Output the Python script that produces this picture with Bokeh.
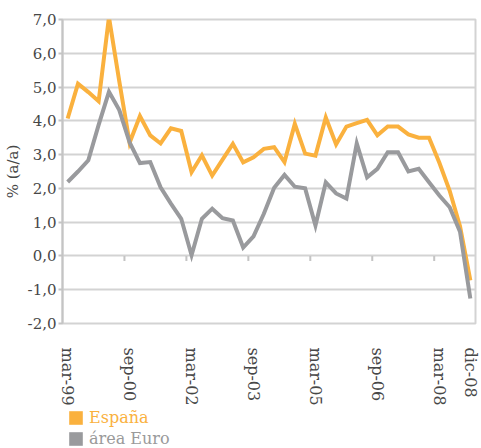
import math

from bokeh.plotting import figure
from bokeh.layouts import column
from bokeh.models import FixedTicker, Legend, LegendItem, Range1d
from bokeh.embed import file_html
from bokeh.resources import INLINE

# Quarterly periods, mar-99 .. dic-08
meses = ["mar", "jun", "sep", "dic"]
periodos = [f"{m}-{a % 100:02d}" for a in range(1999, 2009) for m in meses]

# Year-on-year rate (%)
espana = [4.07, 5.10, 4.85, 4.58, 7.07, 5.17, 3.35, 4.14, 3.57, 3.33,
          3.78, 3.70, 2.48, 2.98, 2.38, 2.85, 3.32, 2.77, 2.92, 3.17,
          3.22, 2.78, 3.91, 3.03, 2.97, 4.10, 3.30, 3.83, 3.93, 4.03,
          3.57, 3.83, 3.83, 3.60, 3.50, 3.50, 2.76, 1.93, 0.88, -0.72]
euro = [2.19, 2.50, 2.83, 3.88, 4.86, 4.32, 3.36, 2.75, 2.78, 2.03,
        1.55, 1.10, 0.02, 1.10, 1.40, 1.12, 1.05, 0.25, 0.58, 1.25,
        2.02, 2.40, 2.05, 2.00, 0.90, 2.18, 1.85, 1.70, 3.33, 2.33,
        2.58, 3.07, 3.07, 2.50, 2.58, 2.18, 1.79, 1.44, 0.72, -1.26]

etiquetas_x = ["mar-99", "sep-00", "mar-02", "sep-03", "mar-05", "sep-06", "mar-08", "dic-08"]
ticks_y = [-2, -1, 0, 1, 2, 3, 4, 5, 6, 7]

NARANJA = "#FAB13E"
GRIS = "#999A9D"
REJILLA = "#D3D3D3"
EJE = "#C4C4C4"
TEXTO = "#474747"
FUENTE = "DejaVu Serif"

x = list(range(len(periodos)))

p = figure(frame_width=413, frame_height=304,
           x_range=Range1d(-0.5, len(periodos) - 0.5),
           y_range=Range1d(ticks_y[0], ticks_y[-1]),
           output_backend="svg", toolbar_location=None,
           min_border_left=61, min_border_right=7,
           min_border_top=19, min_border_bottom=82,
           background_fill_color="white", border_fill_color="white")

p.outline_line_color = REJILLA
p.outline_line_width = 2

# Horizontal grid
p.xgrid.grid_line_color = None
p.ygrid.ticker = FixedTicker(ticks=ticks_y)
p.ygrid.grid_line_color = REJILLA
p.ygrid.grid_line_width = 2

# Y axis with comma decimals
p.yaxis.ticker = FixedTicker(ticks=ticks_y)
p.yaxis.major_label_overrides = {v: f"{v:.1f}".replace(".", ",") for v in ticks_y}
p.yaxis.axis_line_color = EJE
p.yaxis.axis_line_width = 2
p.yaxis.major_tick_in = 0
p.yaxis.major_tick_out = 4
p.yaxis.major_tick_line_color = EJE
p.yaxis.major_tick_line_width = 2
p.yaxis.minor_tick_line_color = None
p.yaxis.major_label_standoff = 2
p.yaxis.major_label_text_font = FUENTE
p.yaxis.major_label_text_font_size = "15px"
p.yaxis.major_label_text_color = TEXTO
p.yaxis.axis_label = "% (a/a)"
p.yaxis.axis_label_text_font = FUENTE
p.yaxis.axis_label_text_font_size = "15px"
p.yaxis.axis_label_text_font_style = "normal"
p.yaxis.axis_label_text_color = TEXTO
p.yaxis.axis_label_standoff = 3

# Bottom axis: period labels only
pos_etiquetas = [periodos.index(e) for e in etiquetas_x]
p.xaxis.ticker = FixedTicker(ticks=pos_etiquetas)
p.xaxis.major_label_overrides = {i: e for i, e in zip(pos_etiquetas, etiquetas_x)}
p.xaxis.major_label_orientation = "vertical"
p.xaxis.axis_line_color = None
p.xaxis.major_tick_line_color = None
p.xaxis.minor_tick_line_color = None
p.xaxis.major_label_standoff = 18
p.xaxis.major_label_text_font = FUENTE
p.xaxis.major_label_text_font_size = "16px"
p.xaxis.major_label_text_color = TEXTO

# Category-boundary tick marks hanging from the zero line
bordes = [i - 0.5 for i in range(6, len(periodos), 6)]
p.ray(x=bordes, y=[0] * len(bordes), length=5, length_units="screen",
      angle=-math.pi / 2, line_color=EJE, line_width=2)

p.line(x, espana, line_color=NARANJA, line_width=4, line_join="miter")
p.line(x, euro, line_color=GRIS, line_width=4, line_join="miter")

# Legend strip below the chart
leg = figure(width=481, height=43, x_range=Range1d(0, 1), y_range=Range1d(0, 1),
             output_backend="svg", toolbar_location=None,
             x_axis_location=None, y_axis_location=None,
             min_border=0, outline_line_color=None,
             background_fill_color="white", border_fill_color="white")
leg.grid.visible = False

nan = float("nan")
s_esp = leg.quad(left=[nan], right=[nan], top=[nan], bottom=[nan],
                 fill_color=NARANJA, line_color=None)
s_eur = leg.quad(left=[nan], right=[nan], top=[nan], bottom=[nan],
                 fill_color=GRIS, line_color=None)

def entrada(renderer, texto, color, loc):
    lg = Legend(items=[LegendItem(label=texto, renderers=[renderer])],
                location=loc, glyph_width=17, glyph_height=17,
                label_standoff=5, padding=0, margin=0, spacing=0,
                border_line_color=None, background_fill_alpha=0,
                label_text_font=FUENTE, label_text_font_size="16px",
                label_text_color=color, label_height=20)
    leg.add_layout(lg)

entrada(s_esp, "España", NARANJA, (5, 24))
entrada(s_eur, "área Euro", "#9A9A9A", (5, 3))

open("out.html", "w").write(file_html(column(p, leg), INLINE))
